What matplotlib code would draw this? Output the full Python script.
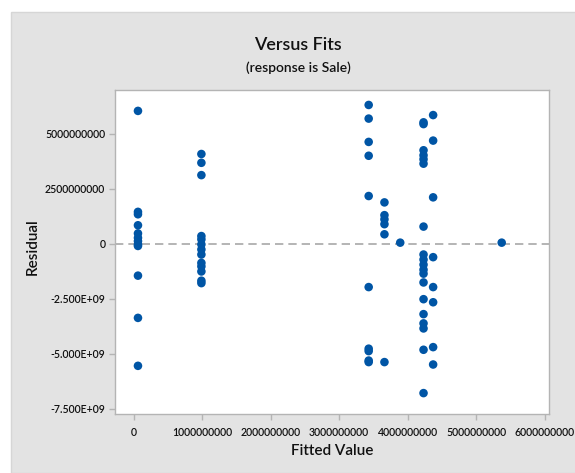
"""Residuals versus fits (response is Sale)."""

import matplotlib

matplotlib.use("Agg")
import matplotlib.pyplot as plt
from matplotlib.patches import Rectangle
from matplotlib.ticker import FixedLocator, FixedFormatter

# fitted values (x) and residuals (y)
fitted = [
    # group near 0
    0.065e9, 0.065e9, 0.065e9, 0.065e9, 0.065e9, 0.065e9, 0.065e9, 0.065e9,
    0.065e9, 0.065e9, 0.065e9, 0.065e9,
    # group near 1e9
    0.99e9, 0.99e9, 0.99e9, 0.99e9, 0.99e9, 0.99e9, 0.99e9, 0.99e9,
    0.99e9, 0.99e9, 0.99e9, 0.99e9, 0.99e9,
    # group near 3.4e9
    3.43e9, 3.43e9, 3.43e9, 3.43e9, 3.43e9, 3.43e9, 3.43e9, 3.43e9,
    3.43e9, 3.43e9,
    # group near 3.66e9
    3.66e9, 3.66e9, 3.66e9, 3.66e9, 3.66e9, 3.66e9,
    3.89e9,
    # group near 4.23e9
    4.23e9, 4.23e9, 4.23e9, 4.23e9, 4.23e9, 4.23e9, 4.23e9, 4.23e9,
    4.23e9, 4.23e9, 4.23e9, 4.23e9, 4.23e9, 4.23e9, 4.23e9, 4.23e9,
    4.23e9, 4.23e9, 4.23e9,
    # group near 4.37e9
    4.37e9, 4.37e9, 4.37e9, 4.37e9, 4.37e9, 4.37e9, 4.37e9, 4.37e9,
    5.37e9,
]
residual = [
    6.04e9, 1.45e9, 1.34e9, 0.84e9, 0.47e9, 0.27e9, 0.12e9, -0.03e9,
    -0.10e9, -1.45e9, -3.37e9, -5.55e9,
    4.08e9, 3.68e9, 3.12e9, 0.35e9, 0.20e9, -0.03e9, -0.26e9, -0.49e9,
    -0.87e9, -1.03e9, -1.26e9, -1.68e9, -1.79e9,
    6.31e9, 5.69e9, 4.63e9, 4.00e9, 2.17e9, -1.97e9, -4.77e9, -4.88e9,
    -5.31e9, -5.38e9,
    1.88e9, 1.30e9, 1.11e9, 0.89e9, 0.43e9, -5.38e9,
    0.05e9,
    5.52e9, 5.44e9, 4.25e9, 4.02e9, 3.84e9, 3.64e9, 0.78e9, -0.49e9,
    -0.72e9, -0.95e9, -1.18e9, -1.36e9, -1.76e9, -2.52e9, -3.20e9, -3.62e9,
    -3.85e9, -4.82e9, -6.79e9,
    5.85e9, 4.69e9, 2.11e9, -0.61e9, -1.97e9, -2.66e9, -4.70e9, -5.49e9,
    0.05e9,
]

x_ticks = [0, 1e9, 2e9, 3e9, 4e9, 5e9, 6e9]
x_labels = ["0", "1000000000", "2000000000", "3000000000", "4000000000",
            "5000000000", "6000000000"]
y_ticks = [5e9, 2.5e9, 0, -2.5e9, -5e9, -7.5e9]
y_labels = ["5000000000", "2500000000", "0", "-2.500E+09", "-5.000E+09",
            "-7.500E+09"]

plt.rcParams["font.family"] = ["Lato", "DejaVu Sans"]
PANEL = "#e3e3e3"
BLUE = "#0055a5"
TEXT = "#111111"

fig = plt.figure(figsize=(5.75, 4.73), dpi=100)
fig.patch.set_facecolor("white")
fig.patches.append(
    Rectangle((11 / 575, 0), 1, 1 - 12 / 473, transform=fig.transFigure,
              facecolor=PANEL, edgecolor="#d6d6d6", linewidth=1.0, zorder=-1)
)

ax = fig.add_axes([115 / 575, 59 / 473, 434 / 575, 324 / 473])
ax.set_facecolor("white")
for sp in ax.spines.values():
    sp.set_color("#b4b4b4")
    sp.set_linewidth(1.0)

ax.axhline(0, color="#a8a8a8", linestyle=(0, (5, 3)), linewidth=1.2, zorder=1)
ax.scatter(fitted, residual, s=38, color=BLUE, edgecolors="none", zorder=3)

ax.set_xlim(-0.27e9, 6.06e9)
ax.set_ylim(-7.74e9, 6.99e9)
ax.xaxis.set_major_locator(FixedLocator(x_ticks))
ax.xaxis.set_major_formatter(FixedFormatter(x_labels))
ax.yaxis.set_major_locator(FixedLocator(y_ticks))
ax.yaxis.set_major_formatter(FixedFormatter(y_labels))
ax.tick_params(axis="both", length=4, width=1, color="#b4b4b4",
               labelsize=7.6, labelcolor=TEXT, pad=3)
ax.tick_params(axis="x", pad=5)
for lab in ax.get_xticklabels() + ax.get_yticklabels():
    lab.set_fontweight("semibold")

fig.text(298 / 575, 1 - 45 / 473, "Versus Fits", ha="center", va="center",
         fontsize=13, fontweight="semibold", color=TEXT)
fig.text(298 / 575, 1 - 68 / 473, "(response is Sale)", ha="center",
         va="center", fontsize=10, fontweight="semibold", color=TEXT)
fig.text(332 / 575, 1 - 451 / 473, "Fitted Value", ha="center", va="center",
         fontsize=11, fontweight="semibold", color=TEXT)
fig.text(33 / 575, 1 - 247 / 473, "Residual", ha="center", va="center",
         rotation=90, fontsize=11, fontweight="semibold", color=TEXT)

fig.savefig("out.png", dpi=100, facecolor=fig.get_facecolor())
